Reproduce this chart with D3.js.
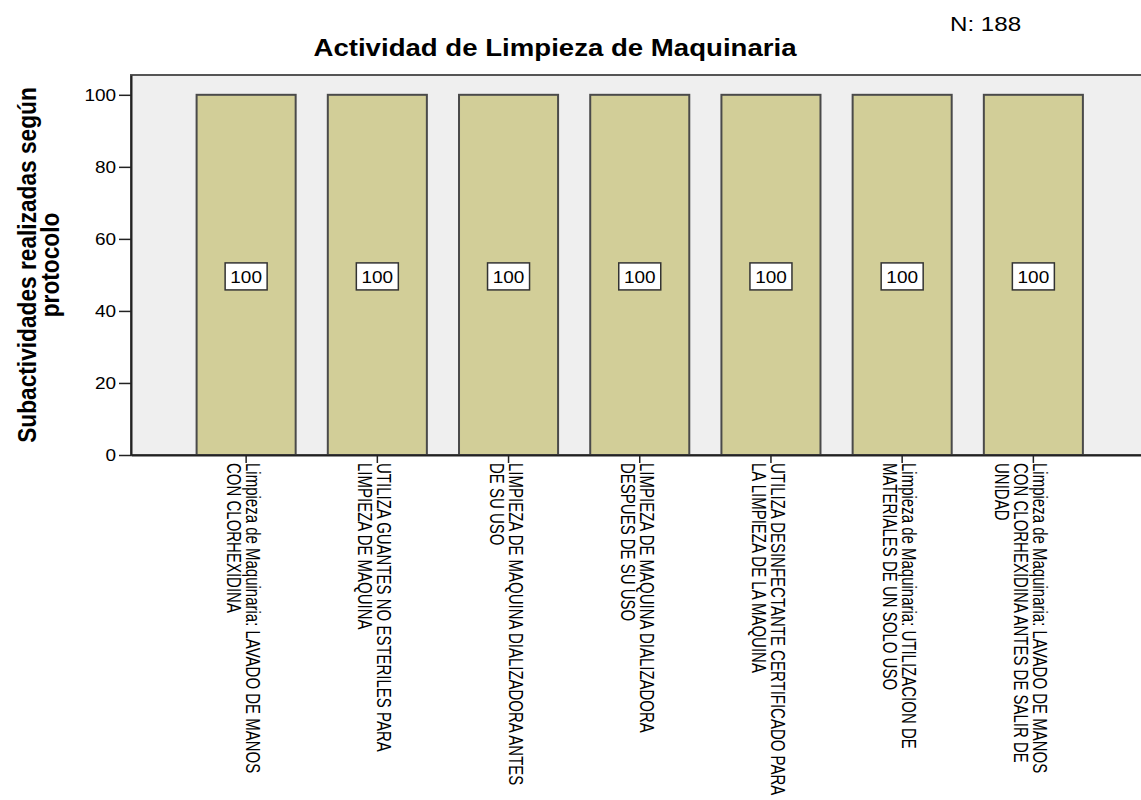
<!DOCTYPE html>
<html>
<head>
<meta charset="utf-8">
<script src="https://cdn.jsdelivr.net/npm/d3@7"></script>
<style>
  body { margin: 0; background: #fff; }
  text { font-family: "Liberation Sans", Arial, sans-serif; fill: #000; }
</style>
</head>
<body>
<svg id="chart" width="1141" height="800"></svg>
<script>
// Chart data
const categories = [
    'Limpieza de Maquinaria: LAVADO DE MANOS CON CLORHEXIDINA',
    'UTILIZA GUANTES NO ESTERILES PARA LIMPIEZA DE MAQUINA',
    'LIMPIEZA DE MAQUINA DIALIZADORA ANTES DE SU USO',
    'LIMPIEZA DE MAQUINA DIALIZADORA DESPUES DE SU USO',
    'UTILIZA DESINFECTANTE CERTIFICADO PARA LA LIMPIEZA DE LA MAQUINA',
    'Limpieza de Maquinaria: UTILIZACION DE MATERIALES DE UN SOLO USO',
    'Limpieza de Maquinaria: LAVADO DE MANOS CON CLORHEXIDINA ANTES DE SALIR DE UNIDAD'
];
const categoryLines = [
    ['Limpieza de Maquinaria: LAVADO DE MANOS', 'CON CLORHEXIDINA'],
    ['UTILIZA GUANTES NO ESTERILES PARA', 'LIMPIEZA DE MAQUINA'],
    ['LIMPIEZA DE MAQUINA DIALIZADORA ANTES', 'DE SU USO'],
    ['LIMPIEZA DE MAQUINA DIALIZADORA', 'DESPUES DE SU USO'],
    ['UTILIZA DESINFECTANTE CERTIFICADO PARA', 'LA LIMPIEZA DE LA MAQUINA'],
    ['Limpieza de Maquinaria: UTILIZACION DE', 'MATERIALES DE UN SOLO USO'],
    ['Limpieza de Maquinaria: LAVADO DE MANOS', 'CON CLORHEXIDINA ANTES DE SALIR DE', 'UNIDAD']
];
const values = [100, 100, 100, 100, 100, 100, 100];
const yTicks = [0, 20, 40, 60, 80, 100];
const chartTitle = 'Actividad de Limpieza de Maquinaria';
const yTitleLines = ['Subactividades realizadas según', 'protocolo'];
const sampleNote = 'N: 188';

const data = categories.map((c, i) => ({ cat: c, lines: categoryLines[i], value: values[i] }));

const svg = d3.select('#chart');

// plot area (the frame runs past the right edge, as in the original export)
const plot = { left: 131, top: 75, right: 1148.5, bottom: 455 };
const sx = 1.15;  // horizontal text stretch of the export

const xScale = d3.scaleBand()
    .domain(categories)
    .range([plot.left, plot.right])
    .paddingInner(0.245)
    .paddingOuter(0.5);

const yScale = d3.scaleLinear()
    .domain([0, 105.5])
    .range([plot.bottom, plot.top]);

// background frame
svg.append('rect')
    .attr('x', plot.left)
    .attr('y', plot.top)
    .attr('width', plot.right - plot.left)
    .attr('height', plot.bottom - plot.top)
    .attr('fill', '#efefef')
    .attr('stroke', '#555')
    .attr('stroke-width', 2);

// bars
svg.append('g')
    .selectAll('rect')
    .data(data)
    .join('rect')
    .attr('x', d => xScale(d.cat))
    .attr('y', d => yScale(d.value))
    .attr('width', xScale.bandwidth())
    .attr('height', d => yScale(0) - yScale(d.value))
    .attr('fill', '#d2ce98')
    .attr('stroke', '#4a4a4a')
    .attr('stroke-width', 2);

// value labels in boxes
const lab = svg.append('g')
    .selectAll('g')
    .data(data)
    .join('g')
    .attr('transform', d => `translate(${xScale(d.cat) + xScale.bandwidth() / 2},${yScale(d.value / 2) + 2})`);

lab.append('rect')
    .attr('x', -21)
    .attr('y', -14)
    .attr('width', 42)
    .attr('height', 27)
    .attr('fill', '#fff')
    .attr('stroke', '#333')
    .attr('stroke-width', 1.5);

lab.append('text')
    .attr('transform', `scale(${sx},1)`)
    .attr('text-anchor', 'middle')
    .attr('dy', '0.35em')
    .attr('font-size', 16.5)
    .text(d => d.value);

// y axis
const yAxis = svg.append('g')
    .attr('transform', `translate(${plot.left},0)`)
    .call(d3.axisLeft(yScale).tickValues(yTicks).tickSize(12).tickSizeOuter(0).tickPadding(1));
yAxis.select('.domain').attr('stroke', '#222').attr('stroke-width', 2);
yAxis.selectAll('.tick line').attr('stroke', '#222').attr('stroke-width', 1.5);
yAxis.selectAll('.tick text')
    .attr('font-size', 16.5)
    .attr('font-family', '"Liberation Sans", Arial, sans-serif')
    .attr('fill', '#000')
    .attr('transform', `scale(${sx},1)`);

// x axis
const xAxis = svg.append('g')
    .attr('transform', `translate(0,${plot.bottom})`)
    .call(d3.axisBottom(xScale).tickSize(8).tickSizeOuter(0).tickFormat(''));
xAxis.select('.domain').attr('stroke', '#222').attr('stroke-width', 2);
xAxis.selectAll('.tick line').attr('stroke', '#222').attr('stroke-width', 1.5);

// rotated category labels, first line at the tick, next lines to the left
const xFont = { size: 15, stretch: 1.4, step: 13.6 };
const xl = svg.append('g')
    .selectAll('text')
    .data(data)
    .join('text')
    .attr('transform', d => `translate(${xScale(d.cat) + xScale.bandwidth() / 2},${plot.bottom + 8}) scale(${xFont.stretch},1) rotate(90)`)
    .attr('font-size', xFont.size);
xl.selectAll('tspan')
    .data(d => d.lines)
    .join('tspan')
    .attr('x', 0)
    .attr('y', (t, i) => i * xFont.step)
    .text(t => t);

// y axis title
const yt = svg.append('text')
    .attr('transform', `translate(36,${(plot.top + plot.bottom) / 2}) scale(${sx},1) rotate(-90)`)
    .attr('text-anchor', 'middle')
    .attr('font-size', 22.7)
    .attr('font-weight', 'bold');
yt.selectAll('tspan')
    .data(yTitleLines)
    .join('tspan')
    .attr('x', 0)
    .attr('y', (t, i) => i * 20)
    .text(t => t);

// title
svg.append('text')
    .attr('transform', `translate(555,56) scale(${sx},1)`)
    .attr('text-anchor', 'middle')
    .attr('font-size', 24)
    .attr('font-weight', 'bold')
    .text(chartTitle);

// sample size note
svg.append('text')
    .attr('transform', `translate(950,31) scale(${sx},1)`)
    .attr('font-size', 21)
    .text(sampleNote);
</script>
</body>
</html>
